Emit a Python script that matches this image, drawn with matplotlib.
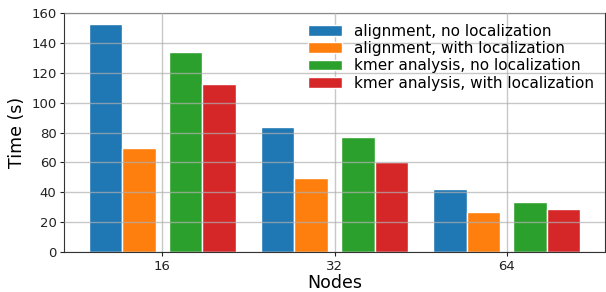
import numpy as np
import matplotlib.pyplot as plt

nodes = ['16', '32', '64']
series = ['alignment, no localization', 'alignment, with localization',
          'kmer analysis, no localization', 'kmer analysis, with localization']
align_noloc = [153, 84, 42.5]
align_loc = [69.5, 49.5, 27]
kmer_noloc = [134, 77, 33.5]
kmer_loc = [112.5, 60, 29]
values = [align_noloc, align_loc, kmer_noloc, kmer_loc]
colors = ['#1f77b4', '#ff7f0e', '#2ca02c', '#d62728']
offsets = [-0.33, -0.135, 0.135, 0.33]

fig = plt.figure(figsize=(6.06, 2.92), dpi=100)
ax = fig.add_axes([0.106, 0.137, 0.892, 0.818])

x = np.arange(len(nodes))
for vals, off, c, lab in zip(values, offsets, colors, series):
    ax.bar(x + off, vals, width=0.195, color=c, edgecolor='white', linewidth=1, label=lab)

ax.set_axisbelow(False)
ax.grid(True, color='#b0b0b0', linewidth=1, alpha=0.7)
ax.set_xticks(x)
ax.set_xticklabels(nodes)
ax.tick_params(labelsize=9.5, length=3, pad=2.5, colors='#222222')
for s in ax.spines.values():
    s.set_color('#333333')
ax.set_ylim(0, 160)
ax.set_xlabel('Nodes', fontsize=12.5, labelpad=1)
ax.set_ylabel('Time (s)', fontsize=12.5, labelpad=4)
ax.legend(loc='upper right', frameon=False, fontsize=11, handlelength=2.2,
          labelspacing=0.15, borderaxespad=0.3)

plt.savefig('out.png', dpi=100)
